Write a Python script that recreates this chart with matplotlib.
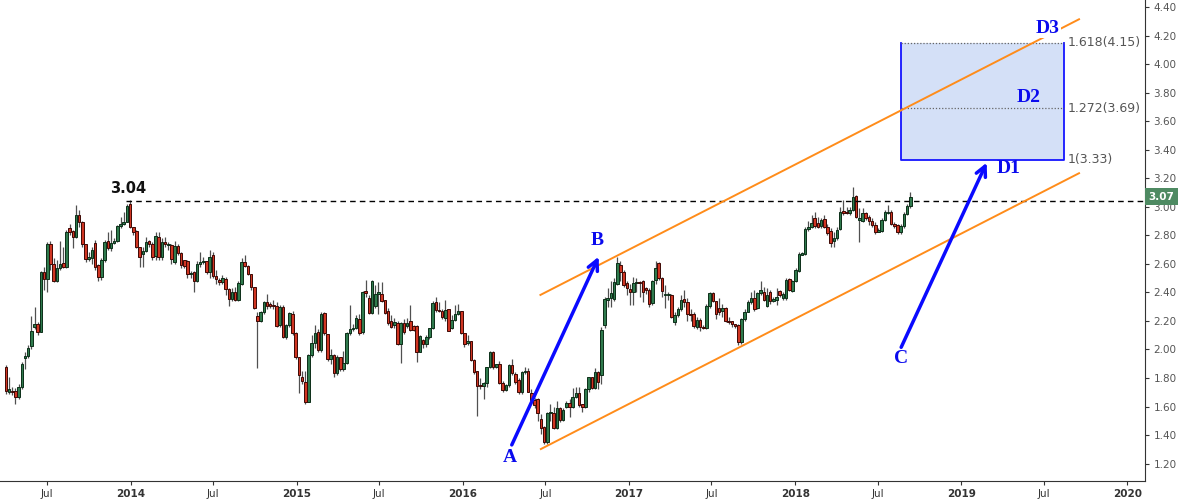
import numpy as np
import pandas as pd
import matplotlib
matplotlib.use('Agg')
import matplotlib.pyplot as plt
import matplotlib.transforms as mtransforms

# === Weekly candles, Mar 2013 - Sep 2018 ===
opens = [1.875, 1.70, 1.71, 1.71, 1.665, 1.735, 1.94, 1.955, 2.027, 2.155,
         2.179, 2.125, 2.541, 2.494, 2.74, 2.60, 2.483, 2.569, 2.604, 2.58,
         2.85, 2.83, 2.79, 2.943, 2.896, 2.74, 2.632, 2.64, 2.744, 2.592,
         2.51, 2.627, 2.76, 2.709, 2.744, 2.763, 2.866, 2.877, 2.896, 3.02,
         2.861, 2.83, 2.72, 2.67, 2.69, 2.76, 2.74, 2.655, 2.79, 2.65,
         2.75, 2.73, 2.73, 2.61, 2.725, 2.674, 2.627, 2.62, 2.527, 2.545,
         2.483, 2.60, 2.61, 2.618, 2.541, 2.66, 2.518, 2.49, 2.47, 2.497,
         2.422, 2.354, 2.405, 2.347, 2.457, 2.615, 2.585, 2.53, 2.436, 2.235,
         2.20, 2.265, 2.335, 2.316, 2.314, 2.305, 2.17, 2.30, 2.09, 2.17,
         2.25, 2.113, 1.945, 1.805, 1.77, 1.634, 1.961, 2.043, 2.12, 1.996,
         2.253, 2.106, 1.931, 1.961, 1.837, 1.945, 1.86, 1.907, 2.113, 2.141,
         2.148, 2.21, 2.124, 2.41, 2.358, 2.258, 2.304, 2.388, 2.388, 2.346,
         2.27, 2.199, 2.17, 2.183, 2.038, 2.183, 2.165, 2.199, 2.164, 2.164,
         1.984, 2.066, 2.038, 2.089, 2.148, 2.33, 2.276, 2.27, 2.218, 2.281,
         2.148, 2.206, 2.246, 2.27, 2.113, 2.043, 2.059, 1.926, 1.849, 1.75,
         1.746, 1.767, 1.879, 1.98, 1.879, 1.898, 1.767, 1.716, 1.751, 1.891,
         1.827, 1.786, 1.70, 1.84, 1.849, 1.692, 1.646, 1.65, 1.51, 1.454,
         1.349, 1.552, 1.557, 1.447, 1.592, 1.506, 1.594, 1.622, 1.599, 1.669,
         1.692, 1.615, 1.594, 1.72, 1.805, 1.732, 1.844, 1.82, 2.171, 2.346,
         2.358, 2.351, 2.459, 2.592, 2.545, 2.463, 2.421, 2.40, 2.463, 2.475,
         2.482, 2.428, 2.417, 2.323, 2.487, 2.603, 2.503, 2.381, 2.385, 2.381,
         2.195, 2.241, 2.283, 2.351, 2.335, 2.248, 2.248, 2.155, 2.206, 2.155,
         2.148, 2.304, 2.398, 2.34, 2.288, 2.272, 2.293, 2.20, 2.20, 2.178,
         2.171, 2.05, 2.211, 2.265, 2.331, 2.363, 2.289, 2.394, 2.405, 2.305,
         2.40, 2.342, 2.347, 2.41, 2.359, 2.363, 2.492, 2.412, 2.48, 2.55,
         2.662, 2.667, 2.842, 2.861, 2.919, 2.884, 2.866, 2.912, 2.856, 2.83,
         2.762, 2.779, 2.842, 2.971, 2.966, 2.959, 2.978, 3.076, 2.908, 2.90,
         2.959, 2.931, 2.901, 2.873, 2.826, 2.831, 2.908, 2.959, 2.966, 2.88,
         2.873, 2.821, 2.865, 2.95, 3.006]
highs = [1.89, 1.81, 1.74, 1.73, 1.76, 1.91, 1.98, 2.03, 2.235, 2.296,
         2.19, 2.55, 2.58, 2.75, 2.76, 2.64, 2.63, 2.76, 2.72, 2.84,
         2.88, 2.84, 3.013, 2.98, 2.90, 2.74, 2.68, 2.72, 2.77, 2.60,
         2.64, 2.77, 2.82, 2.84, 2.78, 2.87, 2.93, 2.966, 3.02, 3.045,
         2.86, 2.84, 2.72, 2.72, 2.79, 2.77, 2.75, 2.82, 2.82, 2.78,
         2.79, 2.75, 2.74, 2.76, 2.74, 2.68, 2.63, 2.63, 2.55, 2.55,
         2.62, 2.68, 2.65, 2.62, 2.70, 2.68, 2.56, 2.50, 2.52, 2.51,
         2.43, 2.43, 2.44, 2.48, 2.64, 2.66, 2.59, 2.53, 2.44, 2.26,
         2.27, 2.34, 2.39, 2.33, 2.35, 2.33, 2.31, 2.31, 2.18, 2.26,
         2.27, 2.12, 1.95, 1.85, 1.85, 1.97, 2.10, 2.17, 2.14, 2.26,
         2.26, 2.11, 2.00, 1.97, 1.96, 1.95, 1.99, 2.12, 2.31, 2.18,
         2.24, 2.25, 2.41, 2.49, 2.38, 2.49, 2.45, 2.47, 2.47, 2.35,
         2.29, 2.24, 2.22, 2.20, 2.19, 2.21, 2.22, 2.31, 2.17, 2.17,
         2.10, 2.07, 2.10, 2.15, 2.34, 2.37, 2.33, 2.28, 2.35, 2.28,
         2.24, 2.31, 2.32, 2.27, 2.11, 2.10, 2.06, 1.93, 1.85, 1.80,
         1.77, 1.88, 1.99, 1.99, 1.90, 1.92, 1.78, 1.76, 1.90, 1.93,
         1.84, 1.80, 1.85, 1.88, 1.87, 1.72, 1.66, 1.66, 1.55, 1.46,
         1.56, 1.62, 1.60, 1.64, 1.60, 1.59, 1.64, 1.65, 1.73, 1.74,
         1.74, 1.62, 1.73, 1.81, 1.81, 1.87, 1.85, 2.16, 2.37, 2.43,
         2.48, 2.50, 2.65, 2.62, 2.56, 2.48, 2.46, 2.51, 2.50, 2.48,
         2.49, 2.44, 2.43, 2.49, 2.62, 2.61, 2.51, 2.45, 2.40, 2.39,
         2.26, 2.30, 2.38, 2.42, 2.36, 2.28, 2.26, 2.23, 2.22, 2.17,
         2.32, 2.40, 2.40, 2.34, 2.36, 2.32, 2.30, 2.23, 2.20, 2.18,
         2.18, 2.22, 2.28, 2.35, 2.40, 2.42, 2.40, 2.48, 2.44, 2.43,
         2.42, 2.37, 2.43, 2.42, 2.40, 2.50, 2.50, 2.49, 2.57, 2.68,
         2.68, 2.86, 2.90, 2.94, 2.96, 2.93, 2.92, 2.94, 2.88, 2.85,
         2.82, 2.86, 3.00, 3.05, 3.00, 3.00, 3.141, 3.08, 2.99, 2.99,
         2.96, 2.94, 2.92, 2.89, 2.85, 2.92, 2.98, 3.01, 2.98, 2.89,
         2.88, 2.88, 2.96, 3.02, 3.10]
lows = [1.69, 1.69, 1.68, 1.618, 1.65, 1.72, 1.86, 1.94, 2.00, 2.14,
        2.10, 2.12, 2.42, 2.40, 2.56, 2.47, 2.47, 2.56, 2.57, 2.57,
        2.80, 2.71, 2.78, 2.86, 2.72, 2.61, 2.62, 2.60, 2.56, 2.48,
        2.49, 2.61, 2.70, 2.69, 2.74, 2.75, 2.85, 2.87, 2.89, 2.85,
        2.80, 2.71, 2.576, 2.58, 2.68, 2.72, 2.63, 2.63, 2.63, 2.63,
        2.72, 2.70, 2.60, 2.60, 2.66, 2.57, 2.57, 2.50, 2.50, 2.405,
        2.47, 2.58, 2.60, 2.53, 2.50, 2.50, 2.46, 2.45, 2.46, 2.38,
        2.307, 2.34, 2.34, 2.34, 2.45, 2.58, 2.52, 2.42, 2.28, 1.87,
        2.19, 2.25, 2.28, 2.29, 2.28, 2.16, 2.16, 2.08, 2.07, 2.16,
        2.10, 1.93, 1.698, 1.76, 1.62, 1.63, 1.95, 2.01, 1.98, 1.98,
        2.10, 1.92, 1.90, 1.81, 1.82, 1.85, 1.85, 1.90, 2.10, 2.13,
        2.14, 2.10, 2.11, 2.37, 2.25, 2.25, 2.29, 2.248, 2.33, 2.25,
        2.17, 2.15, 2.15, 2.03, 1.907, 2.11, 2.15, 2.13, 2.13, 1.91,
        1.98, 2.01, 2.02, 2.07, 2.14, 2.26, 2.26, 2.21, 2.20, 2.13,
        2.14, 2.20, 2.24, 2.11, 2.02, 2.03, 1.92, 1.83, 1.534, 1.72,
        1.65, 1.74, 1.87, 1.86, 1.87, 1.76, 1.70, 1.71, 1.74, 1.82,
        1.76, 1.69, 1.69, 1.83, 1.70, 1.62, 1.59, 1.50, 1.41, 1.34,
        1.34, 1.50, 1.44, 1.44, 1.49, 1.50, 1.59, 1.53, 1.59, 1.66,
        1.60, 1.56, 1.59, 1.70, 1.72, 1.72, 1.72, 1.76, 2.15, 2.30,
        2.30, 2.34, 2.45, 2.48, 2.44, 2.38, 2.31, 2.31, 2.40, 2.37,
        2.33, 2.39, 2.30, 2.31, 2.46, 2.49, 2.37, 2.29, 2.35, 2.22,
        2.17, 2.23, 2.27, 2.30, 2.20, 2.20, 2.15, 2.14, 2.13, 2.14,
        2.14, 2.29, 2.33, 2.21, 2.24, 2.23, 2.19, 2.18, 2.16, 2.15,
        2.03, 2.04, 2.20, 2.26, 2.32, 2.27, 2.28, 2.38, 2.34, 2.30,
        2.32, 2.33, 2.31, 2.37, 2.35, 2.35, 2.41, 2.40, 2.47, 2.54,
        2.66, 2.66, 2.83, 2.85, 2.85, 2.85, 2.85, 2.85, 2.80, 2.72,
        2.72, 2.77, 2.84, 2.94, 2.95, 2.94, 2.97, 2.92, 2.756, 2.89,
        2.91, 2.87, 2.86, 2.81, 2.82, 2.82, 2.90, 2.95, 2.87, 2.85,
        2.81, 2.81, 2.85, 2.94, 2.99]
closes = [1.712, 1.72, 1.70, 1.665, 1.735, 1.90, 1.955, 2.008, 2.132, 2.179,
          2.125, 2.541, 2.494, 2.74, 2.60, 2.483, 2.569, 2.60, 2.58, 2.826,
          2.826, 2.79, 2.943, 2.89, 2.74, 2.632, 2.646, 2.697, 2.58, 2.51,
          2.627, 2.756, 2.709, 2.744, 2.763, 2.866, 2.877, 2.896, 3.006, 2.861,
          2.826, 2.72, 2.646, 2.69, 2.751, 2.74, 2.65, 2.796, 2.65, 2.756,
          2.74, 2.74, 2.632, 2.725, 2.674, 2.592, 2.585, 2.53, 2.538, 2.483,
          2.60, 2.613, 2.618, 2.541, 2.646, 2.518, 2.494, 2.47, 2.499, 2.422,
          2.354, 2.405, 2.347, 2.464, 2.615, 2.585, 2.527, 2.436, 2.289, 2.20,
          2.265, 2.335, 2.305, 2.307, 2.305, 2.167, 2.30, 2.09, 2.17, 2.254,
          2.113, 1.945, 1.822, 1.781, 1.634, 1.961, 2.043, 2.113, 1.996, 2.246,
          2.117, 1.931, 1.961, 1.837, 1.945, 1.86, 1.907, 2.113, 2.141, 2.152,
          2.218, 2.117, 2.405, 2.393, 2.258, 2.48, 2.388, 2.405, 2.342, 2.258,
          2.183, 2.159, 2.194, 2.038, 2.183, 2.124, 2.183, 2.136, 2.136, 1.984,
          2.094, 2.036, 2.089, 2.148, 2.323, 2.276, 2.27, 2.225, 2.276, 2.131,
          2.206, 2.248, 2.27, 2.113, 2.036, 2.059, 1.926, 1.84, 1.744, 1.744,
          1.767, 1.879, 1.98, 1.879, 1.898, 1.767, 1.716, 1.751, 1.891, 1.832,
          1.774, 1.70, 1.84, 1.849, 1.704, 1.646, 1.61, 1.557, 1.447, 1.349,
          1.552, 1.559, 1.447, 1.587, 1.506, 1.576, 1.622, 1.599, 1.669, 1.692,
          1.61, 1.594, 1.72, 1.805, 1.732, 1.844, 1.774, 2.136, 2.351, 2.358,
          2.398, 2.475, 2.603, 2.545, 2.452, 2.428, 2.40, 2.468, 2.475, 2.468,
          2.405, 2.417, 2.318, 2.482, 2.573, 2.503, 2.412, 2.388, 2.388, 2.23,
          2.241, 2.283, 2.346, 2.33, 2.248, 2.241, 2.164, 2.206, 2.155, 2.148,
          2.304, 2.398, 2.34, 2.248, 2.265, 2.293, 2.199, 2.195, 2.178, 2.164,
          2.05, 2.211, 2.265, 2.335, 2.363, 2.282, 2.394, 2.417, 2.347, 2.382,
          2.34, 2.352, 2.37, 2.382, 2.389, 2.487, 2.417, 2.48, 2.557, 2.667,
          2.674, 2.842, 2.861, 2.884, 2.868, 2.861, 2.907, 2.856, 2.814, 2.744,
          2.779, 2.837, 2.966, 2.959, 2.959, 2.978, 3.071, 2.931, 2.919, 2.954,
          2.924, 2.901, 2.873, 2.826, 2.838, 2.908, 2.966, 2.966, 2.88, 2.868,
          2.821, 2.865, 2.95, 3.006, 3.07]

last_week = '2018-09-11'
x_tick_labels = ['Jul', '2014', 'Jul', '2015', 'Jul', '2016', 'Jul', '2017',
                 'Jul', '2018', 'Jul', '2019', 'Jul', '2020']
x_tick_dates = ['2013-07-01', '2014-01-01', '2014-07-01', '2015-01-01', '2015-07-01',
                '2016-01-01', '2016-07-01', '2017-01-01', '2017-07-01', '2018-01-01',
                '2018-07-01', '2019-01-01', '2019-07-01', '2020-01-01']
y_ticks = [1.2, 1.4, 1.6, 1.8, 2.0, 2.2, 2.4, 2.6, 2.8, 3.0, 3.2, 3.4, 3.6, 3.8, 4.0, 4.2, 4.4]

resistance = 3.04
last_price = 3.07
fib_levels = [3.33, 3.69, 4.15]
fib_labels = ['1(3.33)', '1.272(3.69)', '1.618(4.15)']

df = pd.DataFrame({'open': opens, 'high': highs, 'low': lows, 'close': closes})
df['date'] = pd.date_range(end=last_week, periods=len(df), freq='7D')
df['high'] = df[['open', 'high', 'close']].max(axis=1)
df['low'] = df[['open', 'low', 'close']].min(axis=1)
up = df['close'] >= df['open']
dn = ~up

fig = plt.figure(figsize=(11.78, 5), dpi=100)
ax = fig.add_axes([0, 0.038, 1145 / 1178, 0.962])

# === candles ===
ax.vlines(df['date'], df['low'], df['high'], color='#505050', lw=0.9, zorder=2)
body_h = (df['close'] - df['open']).abs().clip(lower=0.006)
body_b = df[['open', 'close']].min(axis=1)
ax.bar(df['date'][up], body_h[up], bottom=body_b[up], width=5.6,
       color='#2f7a4d', edgecolor='#0c2e18', linewidth=0.7, zorder=3)
ax.bar(df['date'][dn], body_h[dn], bottom=body_b[dn], width=5.6,
       color='#d03522', edgecolor='#3d0804', linewidth=0.7, zorder=3)

T = pd.Timestamp

# === fib target box ===
bx0, bx1 = T('2018-08-22'), T('2019-08-14')
ax.fill_between([bx0, bx1], fib_levels[0], fib_levels[2], color='#d4e0f7', zorder=1, lw=0)
ax.plot([bx0, bx0, bx1, bx1], [fib_levels[2], fib_levels[0], fib_levels[0], fib_levels[2]],
        color='#1515ff', lw=1.3, zorder=4)
ax.hlines(fib_levels[1:], bx0, bx1, colors='#666666', linestyles=(0, (1, 1.5)), lw=0.9, zorder=4)
for lvl, lab in zip(fib_levels, fib_labels):
    ax.text(T('2019-08-23'), lvl, lab, fontsize=9, color='#555555', va='center', ha='left', zorder=6)

# === channel ===
ax.plot([T('2016-06-20'), T('2019-09-17')], [2.382, 4.314], color='#ff8c1a', lw=1.4, zorder=5)
ax.plot([T('2016-06-21'), T('2019-09-17')], [1.302, 3.235], color='#ff8c1a', lw=1.4, zorder=5)

# === resistance + last price ===
ax.hlines(resistance, T('2013-12-23'), T('2020-02-09'), colors='black',
          linestyles=(0, (4, 3)), lw=1, zorder=4)
ax.text(T('2013-12-27'), 3.128, '%.2f' % resistance, fontsize=10.5, fontweight='bold',
        ha='center', va='center', color='#111111')
trans = mtransforms.blended_transform_factory(ax.transAxes, ax.transData)
ax.text(1.003, last_price, '%.2f' % last_price, transform=trans, fontsize=7.5,
        fontweight='bold', color='white', ha='left', va='center', clip_on=False, zorder=10,
        bbox=dict(boxstyle='square,pad=0.35', fc='#4e8a62', ec='none'))

# === wave arrows and labels ===
arrow = dict(arrowstyle='->', color='#0a0aff', lw=2.5, mutation_scale=18, shrinkA=0, shrinkB=0)
ax.annotate('', xy=(T('2016-10-26'), 2.65), xytext=(T('2016-04-18'), 1.331), arrowprops=arrow, zorder=7)
ax.annotate('', xy=(T('2019-02-26'), 3.309), xytext=(T('2018-08-22'), 2.015), arrowprops=arrow, zorder=7)

lab_kw = dict(fontsize=14, fontweight='bold', color='#0a0aee', family='Liberation Serif',
              ha='center', va='center', zorder=8)
ax.text(T('2016-04-13'), 1.24, 'A', **lab_kw)
ax.text(T('2016-10-23'), 2.767, 'B', **lab_kw)
ax.text(T('2018-08-21'), 1.94, 'C', **lab_kw)
ax.text(T('2019-04-16'), 3.265, 'D1', **lab_kw)
ax.text(T('2019-05-29'), 3.766, 'D2', **lab_kw)
ax.text(T('2019-07-10'), 4.246, 'D3',
        bbox=dict(boxstyle='square,pad=0.05', fc='white', ec='none'), **lab_kw)

# === axes styling ===
ax.set_xlim(T('2013-03-20'), T('2020-02-09'))
ax.set_ylim(1.078, 4.449)
for s in ['top', 'left']:
    ax.spines[s].set_visible(False)
for s in ['right', 'bottom']:
    ax.spines[s].set_color('#333333')
ax.yaxis.tick_right()
ax.set_yticks(y_ticks)
ax.set_yticklabels(['%.2f' % v for v in y_ticks])
ax.set_xticks([T(d) for d in x_tick_dates])
ax.set_xticklabels(x_tick_labels)
ax.tick_params(axis='both', labelsize=7.5, colors='#333333', length=3, width=0.8, pad=3)
ax.tick_params(axis='y', labelcolor='#555555')
for t in ax.get_xticklabels():
    if t.get_text() != 'Jul':
        t.set_fontweight('bold')

fig.savefig('out.png', dpi=100)
